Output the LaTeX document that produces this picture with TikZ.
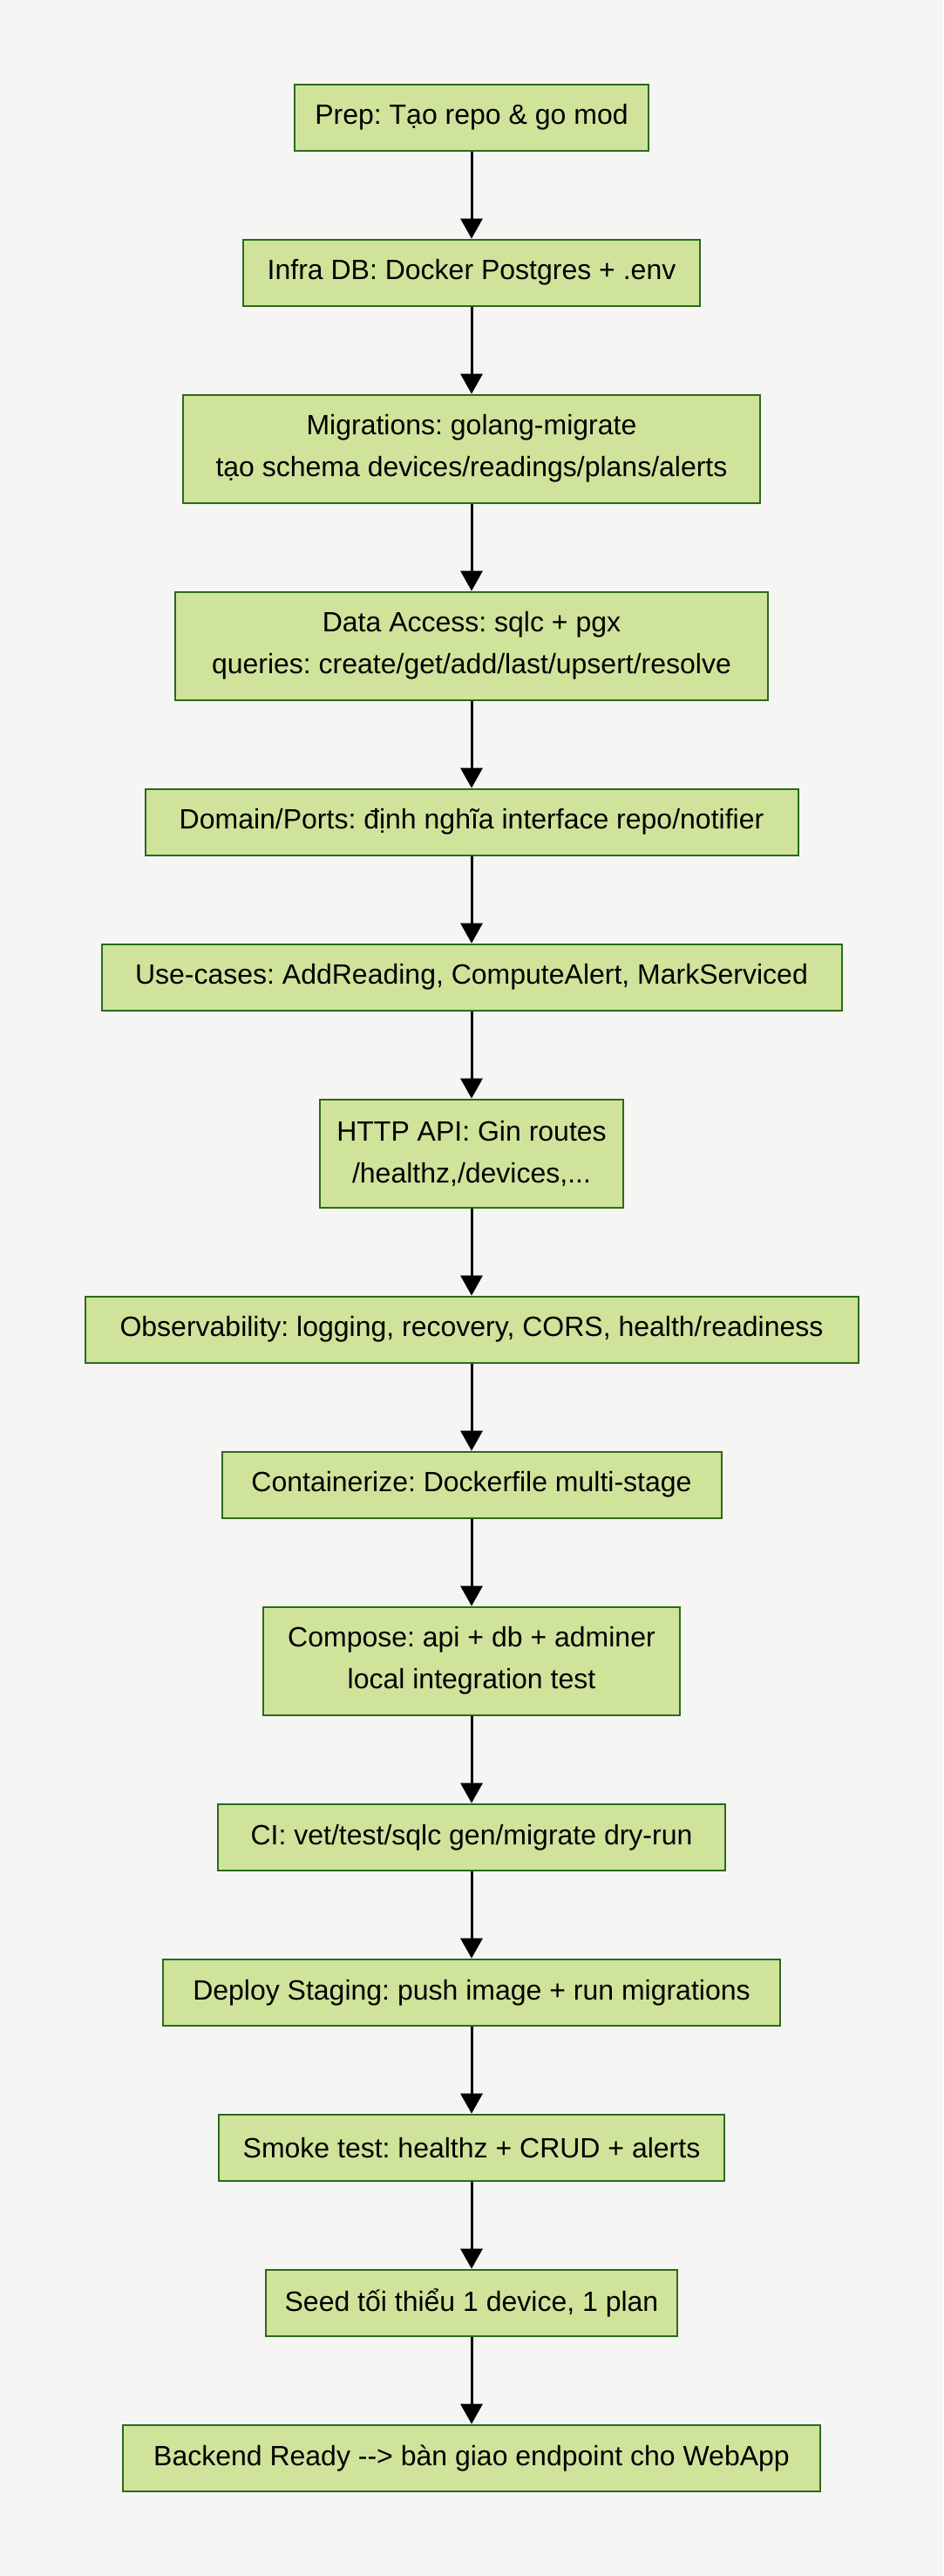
\documentclass[tikz,border=0pt]{standalone}
\usepackage{fontspec}
\setmainfont{Liberation Sans}
\frenchspacing
\usetikzlibrary{arrows.meta}
\usetikzlibrary{positioning}

\definecolor{bgpage}{HTML}{F5F5F3}
\definecolor{stepfill}{HTML}{D0E39B}
\definecolor{stepline}{HTML}{2B6A1E}

\begin{document}
\begin{tikzpicture}[node distance=50pt, auto,
        stage/.style={draw=stepline, fill=stepfill, line width=1pt, inner sep=0pt,
                      minimum height=38pt, align=center,
                      font=\fontsize{16}{24}\selectfont},
        tall/.style={minimum height=62pt},
        flow/.style={-{Triangle[length=11.5pt,width=12.5pt]}, line width=1.5pt}]
    \fill[bgpage] (0,0) rectangle (541pt,-1477pt);
    \useasboundingbox (0,0) rectangle (541pt,-1477pt);

    \node[stage, minimum width=203pt, anchor=north] (prep) at (270.5pt,-47.85pt) {Prep: Tạo repo \& go mod};
    \node[stage, minimum width=262pt] [below=of prep] (infra) {Infra DB: Docker Postgres + .env};
    \node[stage, tall, minimum width=331pt] [below=of infra] (migr) {Migrations: golang-migrate\\tạo schema devices/readings/plans/alerts};
    \node[stage, tall, minimum width=339.6pt] [below=of migr] (data) {Data Access: sqlc + pgx\\queries: create/get/add/last/upsert/resolve};
    \node[stage, minimum width=374.5pt] [below=of data] (domain) {Domain/Ports: định nghĩa interface repo/notifier};
    \node[stage, minimum width=424.5pt] [below=of domain] (usecase) {Use-cases: AddReading, ComputeAlert, MarkServiced};
    \node[stage, tall, minimum width=173.6pt] [below=of usecase] (http) {HTTP API: Gin routes\\/healthz,/devices,...};
    \node[stage, minimum width=443.5pt] [below=of http] (obs) {Observability: logging, recovery, CORS, health/readiness};
    \node[stage, minimum width=286.5pt] [below=of obs] (cont) {Containerize: Dockerfile multi-stage};
    \node[stage, tall, minimum width=239pt] [below=of cont] (compose) {Compose: api + db + adminer\\local integration test};
    \node[stage, minimum width=290.6pt] [below=of compose] (ci) {CI: vet/test/sqlc gen/migrate dry-run};
    \node[stage, minimum width=354pt] [below=of ci] (deploy) {Deploy Staging: push image + run migrations};
    \node[stage, minimum width=290pt] [below=of deploy] (smoke) {Smoke test: healthz + CRUD + alerts};
    \node[stage, minimum width=236pt] [below=of smoke] (seed) {Seed tối thiểu 1 device, 1 plan};
    \node[stage, minimum width=399.6pt] [below=of seed] (ready) {Backend Ready -\kern0pt-\kern0pt> bàn giao endpoint cho WebApp};

    \path[flow]
        (prep) edge (infra)
        (infra) edge (migr)
        (migr) edge (data)
        (data) edge (domain)
        (domain) edge (usecase)
        (usecase) edge (http)
        (http) edge (obs)
        (obs) edge (cont)
        (cont) edge (compose)
        (compose) edge (ci)
        (ci) edge (deploy)
        (deploy) edge (smoke)
        (smoke) edge (seed)
        (seed) edge (ready);
\end{tikzpicture}
\end{document}
